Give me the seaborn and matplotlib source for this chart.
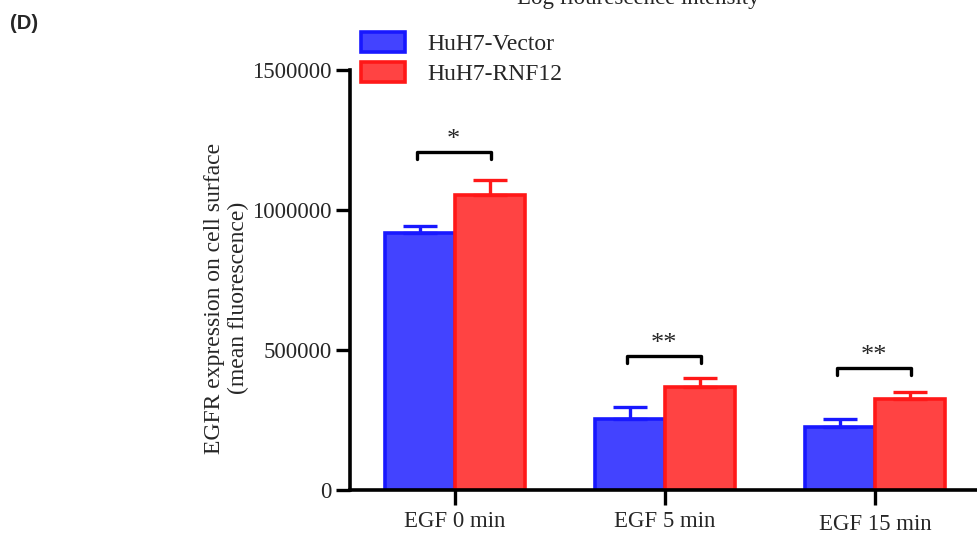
import pandas as pd
import numpy as np
import matplotlib.pyplot as plt
import seaborn as sns
from matplotlib.patches import Patch
from matplotlib.transforms import ScaledTranslation

# Dados
times = ['EGF 0 min', 'EGF 5 min', 'EGF 15 min']
groups = ['HuH7-Vector', 'HuH7-RNF12']
vector_mean = [918000, 254000, 225000]
vector_err = [25000, 42000, 28000]
rnf12_mean = [1054000, 368000, 325000]
rnf12_err = [53000, 32000, 25000]
stars = ['*', '**', '**']
bracket_y = [1207000, 479000, 436000]

face = {'HuH7-Vector': '#4343FF', 'HuH7-RNF12': '#FF4343'}
edge = {'HuH7-Vector': '#1818FF', 'HuH7-RNF12': '#FF1818'}

df = pd.DataFrame({
    'time': times * 2,
    'group': [groups[0]] * 3 + [groups[1]] * 3,
    'mean': vector_mean + rnf12_mean,
})

sns.set_theme(style='white')
plt.rcParams['font.family'] = ['Liberation Serif', 'DejaVu Serif']

fig = plt.figure(figsize=(9.77, 5.36), dpi=100)
ax = fig.add_axes([0.358, 0.0858, 0.645, 0.783])

sns.barplot(data=df, x='time', y='mean', hue='group', palette=face,
            width=0.667, errorbar=None, ax=ax, legend=False, saturation=1)

# bordas e barras de erro (somente para cima)
errs = [vector_err, rnf12_err]
for cont, g, e in zip(ax.containers, groups, errs):
    xs, ys = [], []
    for p in cont.patches:
        p.set_edgecolor(edge[g])
        p.set_linewidth(2.6)
        xs.append(p.get_x() + p.get_width() / 2)
        ys.append(p.get_height())
    ax.errorbar(xs, ys, yerr=[np.zeros(len(e)), e], fmt='none',
                ecolor=edge[g], elinewidth=2.4, capsize=12.5, capthick=2.4,
                zorder=1)

# colchetes de significância
for i, (s, yb) in enumerate(zip(stars, bracket_y)):
    x0, x1 = i - 0.18, i + 0.17
    ax.plot([x0, x0, x1, x1], [yb - 24000, yb, yb, yb - 24000],
            color='black', lw=2.4, clip_on=False)
    ax.text((x0 + x1) / 2, yb + 4000, s, ha='center', va='bottom',
            fontsize=19)

ax.set_xlim(-0.5, 2.5)
ax.set_ylim(0, 1500000)
ax.set_yticks([0, 500000, 1000000, 1500000])
ax.set_yticklabels(['0', '500000', '1000000', '1500000'])
ax.set_xlabel('')
ax.set_ylabel('EGFR expression on cell surface\n(mean fluorescence)',
              fontsize=17)
ax.yaxis.set_label_coords(-0.16, 0.457)
ax.tick_params(axis='both', labelsize=16.5, width=2.4, color='black')
ax.tick_params(axis='x', length=11, pad=4, bottom=True)
ax.tick_params(axis='y', length=10, pad=3, left=True)
# o último rótulo aparece um pouco mais baixo no original
lbl = ax.get_xticklabels()[2]
lbl.set_transform(lbl.get_transform() +
                  ScaledTranslation(0, -2.5 / 72, fig.dpi_scale_trans))
sns.despine(ax=ax)
for sp in ['left', 'bottom']:
    ax.spines[sp].set_linewidth(2.6)
    ax.spines[sp].set_color('black')

handles = [Patch(facecolor=face[g], edgecolor=edge[g], linewidth=2.6)
           for g in groups]
fig.legend(handles, groups, loc='upper left', bbox_to_anchor=(0.36, 0.958),
           frameon=False, fontsize=17, handlelength=1.85, handleheight=0.9,
           handletextpad=0.95, labelspacing=0.3, borderaxespad=0)

fig.text(0.653, 1 - 4 / 536, 'Log flourescence intensity', ha='center',
         va='baseline', fontsize=16.5)
fig.text(0.01, 0.957, '(D)', fontsize=14.5, fontweight='bold',
         family='Liberation Sans', va='center')

fig.savefig('out.png', dpi=100)
